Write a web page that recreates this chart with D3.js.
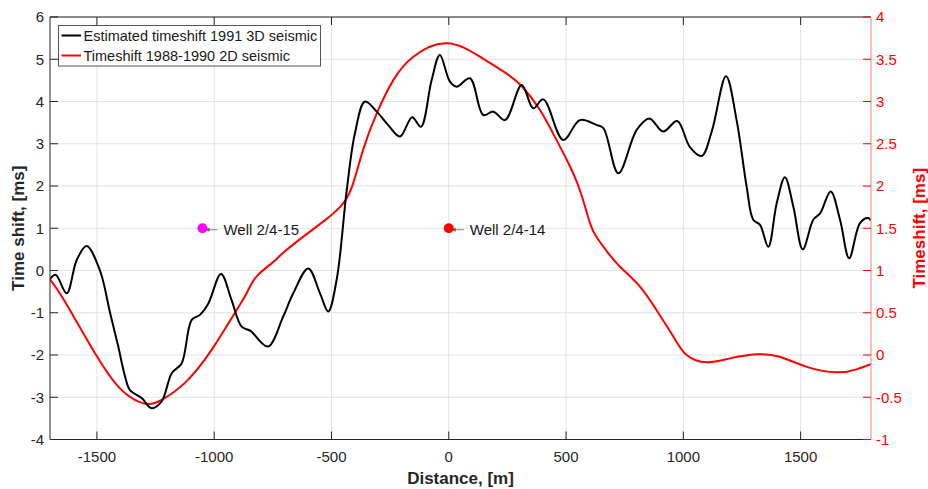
<!DOCTYPE html>
<html><head><meta charset="utf-8">
<script src="https://cdn.jsdelivr.net/npm/d3@7"></script>
<style>
body{margin:0;background:#fff}
svg text{font-family:Arial,"Liberation Sans",Helvetica,sans-serif}
</style>
</head><body>
<svg id="c" width="928" height="489"></svg>
<script>
// ---------- data ----------
const xTicks = [-1500, -1000, -500, 0, 500, 1000, 1500];
const yLeftTicks = [-4, -3, -2, -1, 0, 1, 2, 3, 4, 5, 6];
const yRightTicks = [-1, -0.5, 0, 0.5, 1, 1.5, 2, 2.5, 3, 3.5, 4];

const seriesNames = ["Estimated timeshift 1991 3D seismic", "Timeshift 1988-1990 2D seismic"];

const blackX = [-1700,-1676,-1629,-1586,-1544,-1487,-1444,-1409,-1380,-1359,-1309,-1267,-1224,-1181,-1139,-1096,-1061,-1025,-971,-926,-883,-845,-771,-706,-663,-599,-549,-514,-478,-435,-400,-357,-307,-258,-208,-156,-119,-73,-38,5,34,90,147,190,240,311,360,403,488,559,631,659,723,801,855,914,974,1028,1078,1121,1182,1227,1270,1298,1327,1362,1398,1433,1469,1509,1554,1583,1628,1668,1707,1753,1788,1800];
const blackY = [-0.2,-0.1,-0.54,0.25,0.58,0.0,-1.0,-1.8,-2.51,-2.83,-3.02,-3.26,-3.1,-2.43,-2.2,-1.17,-1.05,-0.78,-0.08,-0.7,-1.33,-1.43,-1.8,-1.09,-0.54,0.05,-0.54,-0.97,-0.22,1.9,3.25,4.0,3.76,3.44,3.17,3.63,3.40,4.51,5.10,4.47,4.35,4.55,3.68,3.76,3.56,4.39,3.84,4.05,3.09,3.56,3.44,3.37,2.30,3.33,3.60,3.29,3.54,2.92,2.71,3.29,4.60,3.56,1.98,1.20,1.08,0.56,1.59,2.21,1.51,0.50,1.20,1.35,1.87,1.20,0.29,1.12,1.24,1.18];

const redX = [-1700,-1636,-1508,-1409,-1338,-1281,-1224,-1125,-1011,-905,-860,-819,-748,-706,-606,-530,-464,-414,-365,-307,-237,-151,-10,133,247,318,389,445,503,559,602,631,673,730,815,886,957,1014,1099,1199,1313,1411,1526,1654,1739,1800];
const redY = [0.896,0.63,0.02,-0.375,-0.53,-0.58,-0.53,-0.33,0.06,0.53,0.74,0.93,1.10,1.21,1.43,1.59,1.75,1.98,2.43,2.86,3.25,3.53,3.69,3.53,3.33,3.16,2.90,2.62,2.31,1.95,1.56,1.39,1.23,1.045,0.81,0.53,0.22,0.0,-0.086,-0.04,0.008,-0.02,-0.14,-0.205,-0.17,-0.11];

const wellNames = ["Well 2/4-15", "Well 2/4-14"];
const wellX = [-1050, 0];
const wellY = [1, 1];

// ---------- styles ----------
const C = {black:"#000000", red:"#ff0000", wellColors:["#ff00ff","#ff0000"],
  axis:"#262626", grid:"#e3e3e3", rightAxis:"#ff8f8f"};

const svg = d3.select("#c");
const L = 50, R = 871, T = 17, B = 439.5;

const x = d3.scaleLinear().domain([-1700, 1800]).range([L, R]);
const yL = d3.scaleLinear().domain([-4, 6]).range([B, T]);
const yR = d3.scaleLinear().domain([-1, 4]).range([B, T]);

// grid
const g = svg.append("g");
g.selectAll(".gx").data(xTicks).join("line")
  .attr("x1", d=>x(d)).attr("x2", d=>x(d)).attr("y1", T).attr("y2", B)
  .attr("stroke", C.grid).attr("stroke-width", 1);
g.selectAll(".gy").data(yLeftTicks).join("line")
  .attr("x1", L).attr("x2", R).attr("y1", d=>yL(d)).attr("y2", d=>yL(d))
  .attr("stroke", C.grid).attr("stroke-width", 1);

// clip
svg.append("clipPath").attr("id","clip").append("rect")
  .attr("x", L).attr("y", T).attr("width", R-L).attr("height", B-T);

const plot = svg.append("g").attr("clip-path","url(#clip)");

const lineB = d3.line().x(d=>x(d[0])).y(d=>yL(d[1])).curve(d3.curveCatmullRom.alpha(0.5));
const lineR = d3.line().x(d=>x(d[0])).y(d=>yR(d[1])).curve(d3.curveNatural);

plot.append("path").datum(redX.map((v,i)=>[v, redY[i]]))
  .attr("d", lineR).attr("fill","none").attr("stroke", C.red).attr("stroke-width", 2);
plot.append("path").datum(blackX.map((v,i)=>[v, blackY[i]]))
  .attr("d", lineB).attr("fill","none").attr("stroke", C.black).attr("stroke-width", 2);

// wells
wellNames.forEach((name, i) => {
  const cx = x(wellX[i]), cy = yL(wellY[i]);
  svg.append("line").attr("x1", cx+3).attr("x2", cx+15).attr("y1", cy+1.5).attr("y2", cy+1.5)
    .attr("stroke", "#808080").attr("stroke-width", 1);
  svg.append("path").attr("d", `M${cx+3},${cy+1.5} l4,-2 l0,4 z`).attr("fill","#606060");
  svg.append("circle").attr("cx", cx).attr("cy", cy).attr("r", 5).attr("fill", C.wellColors[i]);
  svg.append("text").attr("x", cx+21).attr("y", cy+1.5).attr("dy","0.35em")
    .attr("font-size", 15).attr("fill", "#1a1a1a").text(name);
});

// axes box
const ax = svg.append("g");
ax.append("line").attr("x1", L).attr("x2", R).attr("y1", B).attr("y2", B).attr("stroke", C.axis);
ax.append("line").attr("x1", L).attr("x2", R).attr("y1", T).attr("y2", T).attr("stroke", C.axis);
ax.append("line").attr("x1", L).attr("x2", L).attr("y1", T).attr("y2", B).attr("stroke", C.axis);
ax.append("line").attr("x1", R).attr("x2", R).attr("y1", T).attr("y2", B).attr("stroke", C.rightAxis).attr("stroke-width", 1.2);

const tl = 8;
ax.selectAll(".xtb").data(xTicks).join("line")
  .attr("x1", d=>x(d)).attr("x2", d=>x(d)).attr("y1", B).attr("y2", B-tl).attr("stroke", C.axis);
ax.selectAll(".xtt").data(xTicks).join("line")
  .attr("x1", d=>x(d)).attr("x2", d=>x(d)).attr("y1", T).attr("y2", T+tl).attr("stroke", C.axis);
ax.selectAll(".xl").data(xTicks).join("text")
  .attr("x", d=>x(d)).attr("y", B+22).attr("text-anchor","middle")
  .attr("font-size", 15).attr("fill", C.axis).text(d=>String(d));

ax.selectAll(".ylt").data(yLeftTicks).join("line")
  .attr("x1", L).attr("x2", L+tl).attr("y1", d=>yL(d)).attr("y2", d=>yL(d)).attr("stroke", C.axis);
ax.selectAll(".yll").data(yLeftTicks).join("text")
  .attr("x", L-6).attr("y", d=>yL(d)).attr("dy","0.35em").attr("text-anchor","end")
  .attr("font-size", 15).attr("fill", C.axis).text(d=>String(d));

ax.selectAll(".yrt").data(yRightTicks).join("line")
  .attr("x1", R).attr("x2", R-tl).attr("y1", d=>yR(d)).attr("y2", d=>yR(d)).attr("stroke", C.red);
ax.selectAll(".yrl").data(yRightTicks).join("text")
  .attr("x", R+5).attr("y", d=>yR(d)).attr("dy","0.35em").attr("text-anchor","start")
  .attr("font-size", 15).attr("fill", C.red).text(d=>String(d));

// axis labels
svg.append("text").attr("x", (L+R)/2).attr("y", 484).attr("text-anchor","middle")
  .attr("font-size", 17).attr("font-weight","bold").attr("fill", C.axis).text("Distance, [m]");
svg.append("text").attr("transform", `translate(24,${(T+B)/2}) rotate(-90)`).attr("text-anchor","middle")
  .attr("font-size", 17).attr("font-weight","bold").attr("fill", C.axis).text("Time shift, [ms]");
svg.append("text").attr("transform", `translate(925,${(T+B)/2}) rotate(-90)`).attr("text-anchor","middle")
  .attr("font-size", 17).attr("font-weight","bold").attr("fill", C.red).text("Timeshift, [ms]");

// legend
const lg = svg.append("g");
lg.append("rect").attr("x", 58.5).attr("y", 25.5).attr("width", 262).attr("height", 40.5)
  .attr("fill", "#fff").attr("stroke", "#555").attr("stroke-width", 1);
[C.black, C.red].forEach((col, i) => {
  const yy = 35.5 + i*20;
  lg.append("line").attr("x1", 61.5).attr("x2", 81).attr("y1", yy).attr("y2", yy)
    .attr("stroke", col).attr("stroke-width", 2);
  lg.append("text").attr("x", 83.5).attr("y", yy).attr("dy","0.35em")
    .attr("font-size", 14.5).attr("fill", "#1a1a1a").text(seriesNames[i]);
});
</script>
</body></html>
